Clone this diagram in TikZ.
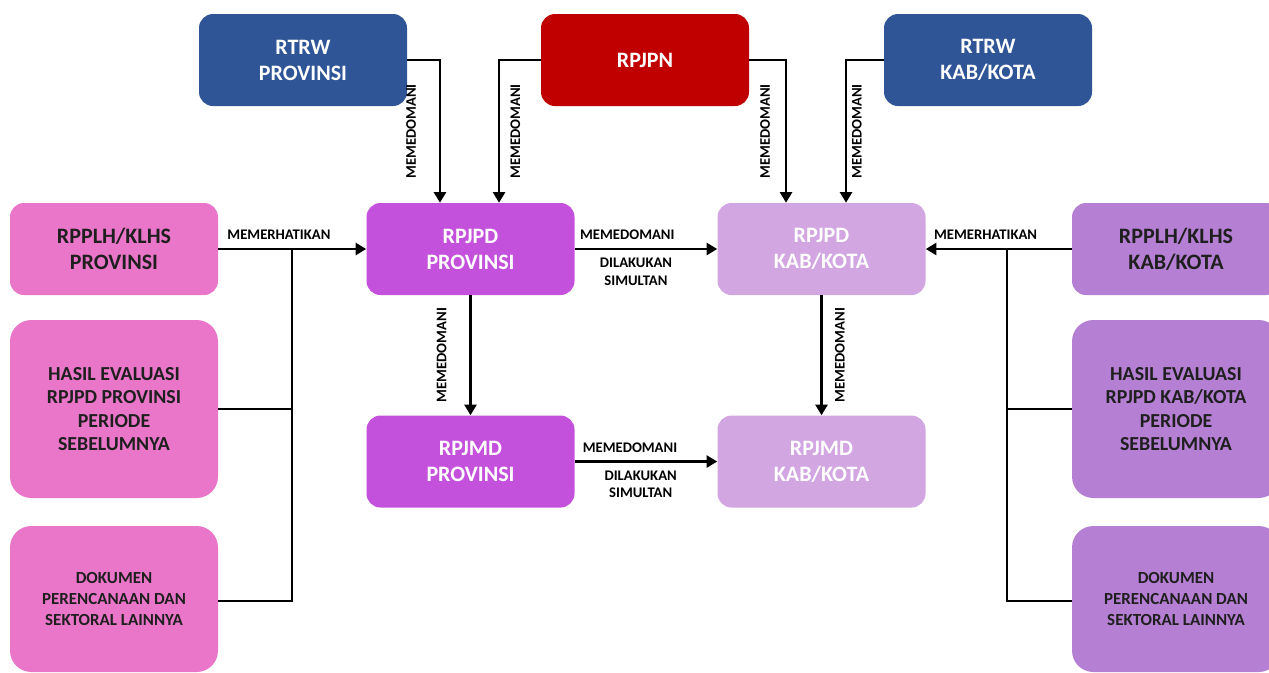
\documentclass[tikz,border=0pt]{standalone}
\usepackage{fontspec}
\setmainfont{Carlito}
\usetikzlibrary{arrows.meta,positioning}
\definecolor{rtrwblue}{HTML}{2F5597}
\definecolor{rpjpnred}{HTML}{C00000}
\definecolor{provpink}{HTML}{EA76C9}
\definecolor{provmag}{HTML}{C451DB}
\definecolor{kablight}{HTML}{D2A6E1}
\definecolor{kabpurple}{HTML}{B57FD3}

\begin{document}
\begin{tikzpicture}[x=0.75pt,y=-0.75pt,
  box/.style={rounded corners=10.5pt, align=center, inner sep=0pt,
    minimum width=156pt, minimum height=69pt,
    font=\bfseries\fontsize{16.5}{19.5}\selectfont},
  whitebox/.style={box, text=white},
  sidebox/.style={box, text=black!88},
  tallbox/.style={sidebox, rounded corners=16pt, minimum height=133.5pt,
    font=\bfseries\fontsize{14.9}{17.6}\selectfont},
  docbox/.style={sidebox, rounded corners=16pt, minimum height=109.5pt,
    font=\bfseries\fontsize{12.7}{15.4}\selectfont},
  conn/.style={line width=2.1pt},
  arr/.style={conn, -{Triangle[length=8pt,width=9pt]}},
  lbl/.style={font=\bfseries\fontsize{11}{13}\selectfont, align=center, inner sep=1pt},
  vlbl/.style={lbl, rotate=90, inner xsep=0pt}]
\clip (0,0) rectangle (1269,672);

% top row
\node[whitebox, fill=rtrwblue] (rtrwprov) at (303,60) {RTRW\\PROVINSI};
\node[whitebox, fill=rpjpnred] (rpjpn) at (645,60) {RPJPN};
\node[whitebox, fill=rtrwblue] (rtrwkab) at (988,60) {RTRW\\KAB/KOTA};

% middle columns
\node[whitebox, fill=provmag] (rpjpdprov) at (470.5,249) {RPJPD\\PROVINSI};
\node[whitebox, fill=provmag, below=90pt of rpjpdprov] (rpjmdprov) {RPJMD\\PROVINSI};
\node[whitebox, fill=kablight] (rpjpdkab) at (821.5,249) {RPJPD\\KAB/KOTA};
\node[whitebox, fill=kablight, below=90pt of rpjpdkab] (rpjmdkab) {RPJMD\\KAB/KOTA};

% left side
\node[sidebox, fill=provpink] (rpplhprov) at (114,249) {RPPLH/KLHS\\PROVINSI};
\node[tallbox, fill=provpink] (hasilprov) at (114,409) {HASIL EVALUASI\\RPJPD PROVINSI\\PERIODE\\SEBELUMNYA};
\node[docbox, fill=provpink] (dokprov) at (114,599) {DOKUMEN\\PERENCANAAN DAN\\SEKTORAL LAINNYA};

% right side
\node[sidebox, fill=kabpurple] (rpplhkab) at (1176,249) {RPPLH/KLHS\\KAB/KOTA};
\node[tallbox, fill=kabpurple] (hasilkab) at (1176,409) {HASIL EVALUASI\\RPJPD KAB/KOTA\\PERIODE\\SEBELUMNYA};
\node[docbox, fill=kabpurple] (dokkab) at (1176,599) {DOKUMEN\\PERENCANAAN DAN\\SEKTORAL LAINNYA};

% top arrows
\draw[arr] (rtrwprov.east) -| ([xshift=-22.9pt]rpjpdprov.north)
  node[vlbl, pos=0.75, anchor=south, inner ysep=17pt] (l1) {MEMEDOMANI};
\draw[arr] (rpjpn.west) -| ([xshift=21.4pt]rpjpdprov.north)
  node[vlbl, pos=0.75, anchor=north, inner ysep=7.5pt] (l2) {MEMEDOMANI};
\draw[arr] (rpjpn.east) -| ([xshift=-26.6pt]rpjpdkab.north)
  node[vlbl, pos=0.75, anchor=south, inner ysep=11pt] (l3) {MEMEDOMANI};
\draw[arr] (rtrwkab.west) -| ([xshift=18.4pt]rpjpdkab.north)
  node[vlbl, pos=0.75, anchor=north, inner ysep=3.5pt] (l4) {MEMEDOMANI};

% down arrows
\draw[arr] (rpjpdprov) -- (rpjmdprov)
  node[vlbl, midway, anchor=south, inner ysep=17pt] (l5) {MEMEDOMANI};
\draw[arr] (rpjpdkab) -- (rpjmdkab)
  node[vlbl, midway, anchor=north, inner ysep=9pt] (l6) {MEMEDOMANI};

% across
\draw[arr] (rpjpdprov) -- (rpjpdkab)
  node[lbl, midway, above=5pt, xshift=-14pt] (l7) {MEMEDOMANI}
  node[lbl, midway, below=5pt, xshift=-7.5pt] (l8) {DILAKUKAN\\SIMULTAN};
\draw[arr] (rpjmdprov) -- (rpjmdkab)
  node[lbl, midway, above=5pt, xshift=-12pt] (l9) {MEMEDOMANI}
  node[lbl, midway, below=5pt, xshift=-4pt] (l10) {DILAKUKAN\\SIMULTAN};

% memerhatikan, left
\coordinate (jl) at (292,249);
\draw[arr] (rpplhprov) -- (rpjpdprov)
  node[lbl, pos=0.41, above=5pt] (l11) {MEMERHATIKAN};
\draw[conn] (jl) |- ([yshift=-1.5pt]dokprov.east);
\draw[conn] (hasilprov.east) -- (hasilprov.east -| jl);

% memerhatikan, right
\coordinate (jr) at (1007,249);
\draw[arr] (rpplhkab) -- (rpjpdkab)
  node[lbl, pos=0.59, above=5pt] (l12) {MEMERHATIKAN};
\draw[conn] (jr) |- ([yshift=-1.5pt]dokkab.west);
\draw[conn] (hasilkab.west) -- (hasilkab.west -| jr);
\end{tikzpicture}
\end{document}
